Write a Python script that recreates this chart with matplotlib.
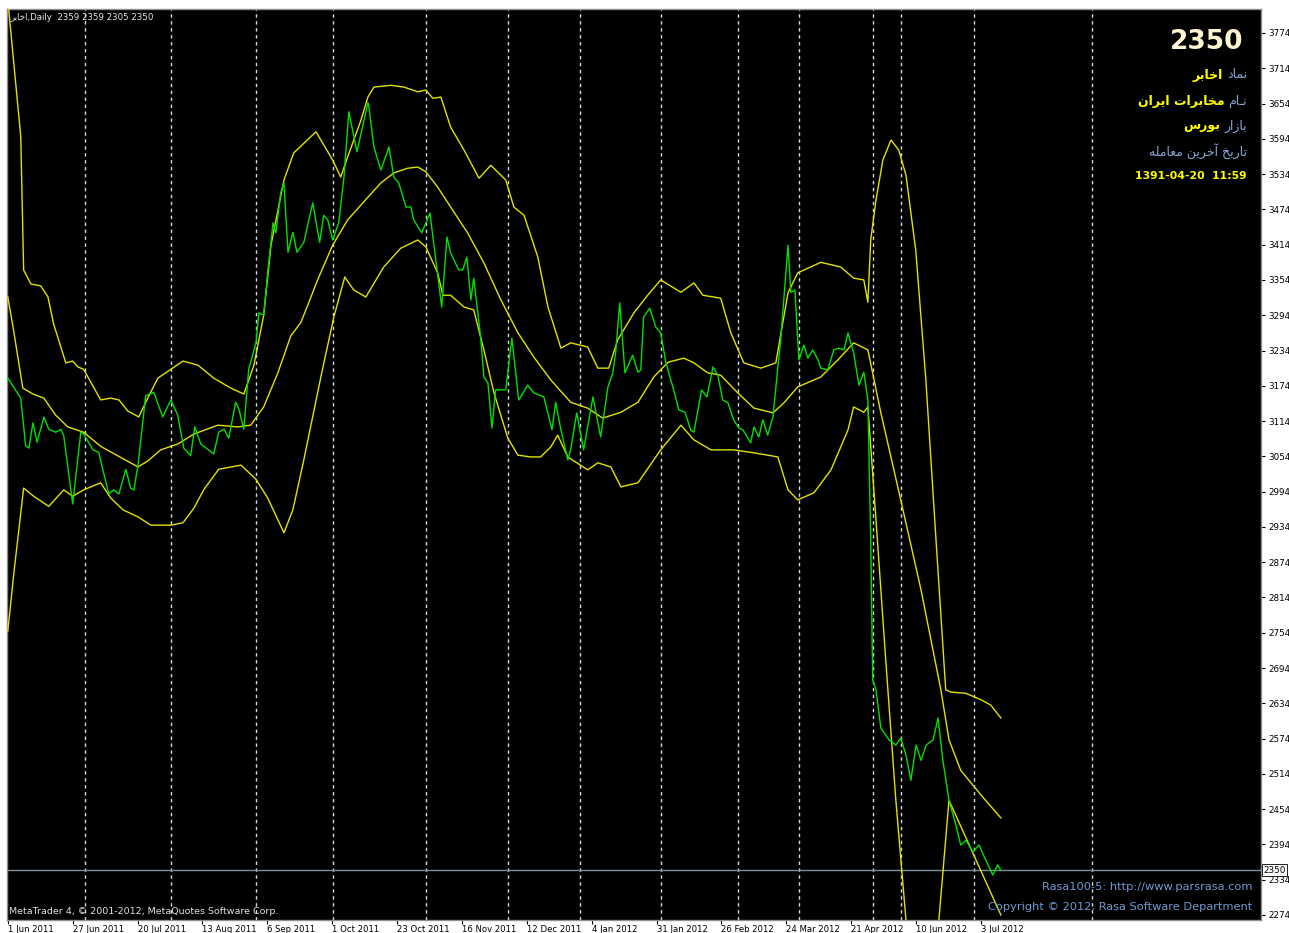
import matplotlib
matplotlib.use('Agg')
import matplotlib.pyplot as plt

plt.rcParams['font.family'] = ['DejaVu Sans']

# ---------------- data (bar index, price) ----------------
close_bar = [0, 3.2, 4.4, 5.2, 6.2, 7.2, 8.9, 10.1, 11.8, 13.1, 13.8, 16.0, 18.0, 18.7, 21.0, 22.4,
             24.9, 26.1, 27.4, 29.1, 30.3, 31.1, 32.1, 34.0, 36.0, 38.2, 40.2, 41.9, 43.4, 45.1,
             46.1, 47.6, 50.8, 52.0, 53.3, 54.5, 56.2, 57.0, 58.2, 59.4, 61.2, 61.9, 63.1, 64.1,
             65.4, 66.1, 67.3, 68.1, 69.1, 70.3, 71.3, 73.0, 75.2, 76.9, 77.9, 78.9, 80.1, 81.6,
             82.9, 84.1, 86.1, 88.8, 89.0, 90.3, 92.0, 94.0, 95.2, 96.4, 98.2, 99.4, 100.1, 102.1,
             104.1, 107.0, 108.3, 109.2, 111.2, 112.2, 113.2, 114.2, 114.9, 116.6, 117.4, 118.4,
             119.4, 120.3, 122.8, 124.3, 126.0, 128.2, 129.7, 132.2, 134.2, 135.1, 136.4, 138.1,
             138.8, 140.3, 142.0, 144.3, 146.2, 148.0, 149.2, 149.9, 150.9, 152.2, 154.1, 155.4,
             156.1, 156.8, 158.3, 159.8, 161.0, 162.3, 164.2, 165.5, 167.0, 168.4, 169.2, 171.1,
             172.4, 173.9, 175.1, 176.3, 177.6, 179.0, 180.3, 181.3, 183.2, 184.0, 185.2, 186.2,
             187.4, 188.7, 189.9, 190.6, 192.4, 193.1, 194.1, 195.1, 196.3, 197.3, 198.5, 199.8,
             200.5, 202.2, 203.7, 204.9, 206.2, 207.2, 208.6, 209.9, 211.1, 212.1, 212.8, 213.3,
             214.1, 215.3, 217.3, 219.0, 220.2, 221.5, 222.7, 224.0, 225.2, 226.5, 228.2, 229.4,
             230.6, 232.1, 233.8, 235.0, 236.3, 238.0, 239.5, 241.2, 242.9, 244.1, 244.9]
close_val = [3187, 3153, 3072, 3068, 3111, 3078, 3121, 3100, 3095, 3100, 3089, 2973, 3095, 3092, 3065, 3061,
             2990, 2997, 2990, 3032, 3000, 2997, 3039, 3157, 3163, 3121, 3150, 3124, 3068, 3055,
             3104, 3075, 3058, 3095, 3100, 3085, 3146, 3134, 3100, 3202, 3247, 3298, 3294, 3366,
             3451, 3434, 3502, 3519, 3401, 3435, 3401, 3418, 3485, 3418, 3464, 3456, 3422, 3451,
             3529, 3640, 3572, 3655, 3651, 3580, 3541, 3580, 3529, 3519, 3478, 3478, 3456, 3434,
             3468, 3308, 3427, 3400, 3371, 3371, 3393, 3320, 3357, 3257, 3189, 3179,
             3102, 3167, 3167, 3255, 3150, 3175, 3162, 3155, 3099, 3146, 3099, 3048,
             3065, 3128, 3065, 3155, 3087, 3172, 3196, 3230, 3315, 3196, 3226, 3197,
             3201, 3291, 3306, 3274, 3264, 3213, 3167, 3133, 3129, 3099, 3095, 3167,
             3155, 3206, 3192, 3150, 3145, 3116, 3102, 3099, 3077, 3104, 3087, 3116,
             3090, 3121, 3206, 3252, 3413, 3333, 3337, 3218, 3243, 3221, 3235, 3218,
             3204, 3201, 3235, 3238, 3235, 3264, 3230, 3175, 3197, 3150, 2912, 2674,
             2657, 2592, 2572, 2563, 2575, 2546, 2503, 2563, 2537, 2563, 2572, 2609,
             2537, 2469, 2427, 2393, 2401, 2381, 2393, 2367, 2342, 2359, 2350]

upper_bar = [0, 3.2, 3.9, 5.7, 8.1, 9.9, 11.3, 14.3, 16.0, 17.3, 18.7, 22.9, 25.4, 27.4, 29.6, 32.3,
             34.5, 37.0, 40.2, 43.2, 46.9, 50.8, 55.0, 58.2, 60.7, 63.1, 64.9, 68.1, 70.5, 76.0,
             80.1, 82.1, 83.8, 87.1, 88.8, 90.3, 94.5, 97.7, 101.1, 103.1, 104.8, 106.8, 109.2,
             112.5, 116.2, 119.1, 122.8, 124.8, 127.3, 130.7, 133.2, 136.4, 138.8, 143.0, 145.5,
             148.2, 150.4, 154.4, 157.8, 161.0, 166.0, 169.2, 171.4, 175.8, 178.3, 181.5, 185.7,
             189.4, 192.4, 194.8, 200.5, 205.4, 208.6, 211.1, 212.1, 212.8, 214.1, 215.8, 217.8,
             219.7, 221.5, 223.9, 226.4, 228.9, 231.3, 232.6, 236.3, 240.0, 242.4, 244.9]
upper_val = [3830, 3597, 3371, 3347, 3344, 3325, 3279, 3213, 3216, 3206, 3202, 3150, 3153, 3150, 3131, 3121,
             3153, 3187, 3202, 3216, 3209, 3187, 3170, 3160, 3209, 3294, 3413, 3524, 3570, 3606,
             3558, 3529, 3563, 3626, 3665, 3682, 3685, 3682, 3674, 3677, 3663, 3665, 3614,
             3575, 3527, 3549, 3524, 3478, 3464, 3393, 3308, 3238, 3247, 3240, 3204,
             3204, 3252, 3298, 3328, 3354, 3333, 3349, 3328, 3323, 3264, 3213, 3204,
             3213, 3332, 3366, 3384, 3376, 3357, 3354, 3316, 3422, 3490, 3558, 3592,
             3575, 3532, 3405, 3184, 2912, 2657, 2653, 2651, 2640, 2631, 2609]

mid_bar = [0, 1.5, 3.7, 6.2, 8.9, 11.8, 14.8, 18.7, 22.9, 27.1, 32.1, 34.5, 37.7, 41.9, 45.9, 51.8,
           56.7, 59.9, 63.1, 66.6, 69.8, 72.3, 76.4, 80.1, 83.8, 87.8, 92.0, 95.2, 98.6, 101.1,
           103.1, 106.0, 109.2, 113.4, 117.4, 121.6, 125.8, 129.7, 133.9, 138.8, 143.0, 146.7,
           151.2, 155.4, 159.3, 162.8, 166.7, 169.2, 172.6, 175.8, 180.0, 184.0, 188.7, 191.4,
           194.8, 200.5, 204.7, 208.6, 212.1, 215.3, 220.2, 225.2, 230.1, 232.1, 235.0, 240.0, 244.9]
mid_val = [3325, 3265, 3170, 3160, 3153, 3124, 3104, 3095, 3071, 3055, 3036, 3046, 3065, 3075, 3092, 3107,
           3104, 3107, 3138, 3196, 3259, 3282, 3354, 3413, 3456, 3487, 3519, 3536, 3544, 3546,
           3538, 3512, 3478, 3434, 3383, 3320, 3264, 3223, 3184, 3146, 3136, 3119,
           3129, 3146, 3189, 3214, 3221, 3213, 3196, 3192, 3162, 3136, 3128, 3145,
           3172, 3189, 3218, 3247, 3235, 3128, 2980, 2827, 2657, 2572, 2520, 2478, 2439]

low_bar = [0, 1.5, 3.9, 6.4, 10.1, 13.8, 16.0, 18.7, 22.9, 25.4, 28.4, 32.1, 35.3, 40.2, 43.2, 45.9,
           48.3, 52.0, 57.5, 61.2, 64.1, 68.1, 70.3, 73.0, 77.2, 80.4, 83.1, 85.3, 88.3, 92.7,
           96.9, 101.1, 103.1, 106.0, 107.3, 109.2, 112.5, 114.9, 117.4, 119.9, 123.3, 125.8,
           129.0, 131.4, 133.9, 135.6, 138.1, 143.0, 145.5, 148.7, 151.2, 155.4, 161.0, 166.0,
           169.2, 173.4, 179.0, 184.0, 189.9, 192.4, 194.8, 198.8, 203.0, 207.2, 208.6, 211.1,
           212.1, 214.1, 216.5, 219.0, 221.5, 225.0, 229.6, 232.1, 244.9]
low_val = [2757, 2856, 3000, 2986, 2969, 2997, 2986, 2997, 3009, 2983, 2963, 2951, 2937, 2937, 2941, 2966,
           2997, 3032, 3039, 3015, 2983, 2924, 2963, 3048, 3189, 3291, 3359, 3337, 3325, 3376,
           3408, 3422, 3410, 3366, 3328, 3328, 3308, 3303, 3235, 3162, 3085, 3056,
           3053, 3053, 3070, 3090, 3053, 3031, 3043, 3036, 3002, 3009, 3065, 3107,
           3082, 3065, 3065, 3060, 3053, 2997, 2980, 2992, 3031, 3099, 3138, 3129,
           3138, 2946, 2708, 2469, 2265, 2150, 2265, 2469, 2274]

price_ticks = list(range(2274, 3775, 60))
date_bars = [0, 16, 32, 48, 64, 80, 96, 112, 128, 144, 160, 176, 192, 208, 224, 240]
date_labels = ['1 Jun 2011', '27 Jun 2011', '20 Jul 2011', '13 Aug 2011', '6 Sep 2011',
               '1 Oct 2011', '23 Oct 2011', '16 Nov 2011', '12 Dec 2011', '4 Jan 2012',
               '31 Jan 2012', '26 Feb 2012', '24 Mar 2012', '21 Apr 2012', '10 Jun 2012',
               '3 Jul 2012']
separator_bars = [19.0, 40.2, 61.2, 80.1, 103.1, 123.3, 141.1, 161.0, 180.0, 195.1,
                  213.3, 220.2, 238.2, 267.3]
last_price = 2350
ohlc_text = '2359 2359 2305 2350'

# Persian strings (presentation forms, visual order)
sym_label = '\uFEA9\uFE8E\uFEE4\uFEE7'                       # نماد
sym_value = '\uFEAE\uFE91\uFE8E\uFEA7\uFE8D'                 # اخابر
name_label = '\uFEE1\uFE8E\u0640\uFEE7'                      # نـام
name_value = '\uFEE5\uFE8D\uFEAE\uFEF3\uFE8D \uFE95\uFE8D\uFEAE\uFE91\uFE8E\uFEA8\uFEE3'  # مخابرات ایران
mkt_label = '\uFEAD\uFE8D\uFEAF\uFE8E\uFE91'                 # بازار
mkt_value = '\uFEB1\uFEAD\uFEEE\uFE91'                       # بورس
date_title = ('\uFEEA\uFEE0\uFEE3\uFE8E\uFECC\uFEE3 \uFEE6\uFEF3\uFEAE\uFEA7\uFE81 '
              '\uFEA6\uFEF3\uFEAD\uFE8E\uFE97')              # تاریخ آخرین معامله
last_trade = '1391-04-20  11:59'

# ---------------- figure ----------------
W, H = 1289, 933
fig = plt.figure(figsize=(W / 100, H / 100), dpi=100)
fig.patch.set_facecolor('white')
L, R, T, B = 7, 1261, 9, 920
ax = fig.add_axes([L / W, 1 - B / H, (R - L) / W, (B - T) / H])
ax.set_facecolor('black')

px_per_bar = 4.055
ax.set_xlim(-0.2, (R - L) / px_per_bar - 0.2)
ax.set_ylim(3830.1 - 1.7007 * B, 3830.1 - 1.7007 * T)

for sb in separator_bars:
    ax.axvline(sb, color='#d8d8d8', lw=1.0, ls=(0, (2.5, 2.5)), zorder=1)

ax.axhline(last_price, color='#7f8fa0', lw=1.0, zorder=2)

band_col = '#e2e200'
ax.plot(upper_bar, upper_val, color=band_col, lw=1.0, zorder=3)
ax.plot(mid_bar, mid_val, color=band_col, lw=1.0, zorder=3)
ax.plot(low_bar, low_val, color=band_col, lw=1.0, zorder=3)
ax.plot(close_bar, close_val, color='#00e000', lw=1.0, zorder=4)

for s in ax.spines.values():
    s.set_color('#909090')
    s.set_linewidth(1)

ax.yaxis.tick_right()
ax.set_yticks(price_ticks)
ax.set_yticklabels([str(p) for p in price_ticks])
ax.tick_params(axis='y', labelsize=6.3, length=3, pad=2, colors='black', width=0.8)
ax.set_xticks(date_bars)
ax.set_xticklabels(date_labels, ha='left')
ax.tick_params(axis='x', labelsize=6.1, length=3, pad=0.5, colors='black', width=0.8)

# last price box on axis
ax.annotate(str(last_price), xy=(1.0, last_price), xycoords=('axes fraction', 'data'),
            xytext=(2, 0), textcoords='offset points', ha='left', va='center',
            fontsize=6.3, color='black',
            bbox=dict(boxstyle='square,pad=0.15', fc='white', ec='black', lw=0.6))

# header text
fig.text(10 / W, 1 - 18 / H, sym_value + ',Daily  ' + ohlc_text, fontsize=6.2,
         color='#e8e8e8', ha='left', va='center')

# big price
fig.text(1243 / W, 1 - 42 / H, str(last_price), fontsize=19, fontweight='bold',
         color='#fff5d0', ha='right', va='center')

blue = '#86a8d4'
yellow = '#ffff00'
fig.canvas.draw()
renderer = fig.canvas.get_renderer()


def rtl_pair(y, label, value):
    t = fig.text(1247 / W, 1 - y / H, label, fontsize=9, color=blue, ha='right', va='center')
    bb = t.get_window_extent(renderer)
    fig.text((bb.x0 - 4) / W, 1 - y / H, value, fontsize=9, color=yellow,
             fontweight='bold', ha='right', va='center')


rtl_pair(75, sym_label, sym_value)
rtl_pair(101, name_label, name_value)
rtl_pair(126, mkt_label, mkt_value)
fig.text(1247 / W, 1 - 151 / H, date_title, fontsize=9, color=blue, ha='right', va='center')
fig.text(1247 / W, 1 - 176 / H, last_trade, fontsize=7.8, color=yellow, fontweight='bold',
         ha='right', va='center')

# footer texts
fig.text(1252 / W, 1 - 887 / H, 'Rasa100-5: http://www.parsrasa.com', fontsize=8.2,
         color='#6f9bd0', ha='right', va='center')
fig.text(1252 / W, 1 - 907 / H, 'Copyright \u00a9 2012, Rasa Software Department', fontsize=8.2,
         color='#6f9bd0', ha='right', va='center')
fig.text(9 / W, 1 - 912 / H, 'MetaTrader 4, \u00a9 2001-2012, MetaQuotes Software Corp.',
         fontsize=6.8, color='#e0e0e0', ha='left', va='center')

fig.savefig('out.png', dpi=100, facecolor='white')
